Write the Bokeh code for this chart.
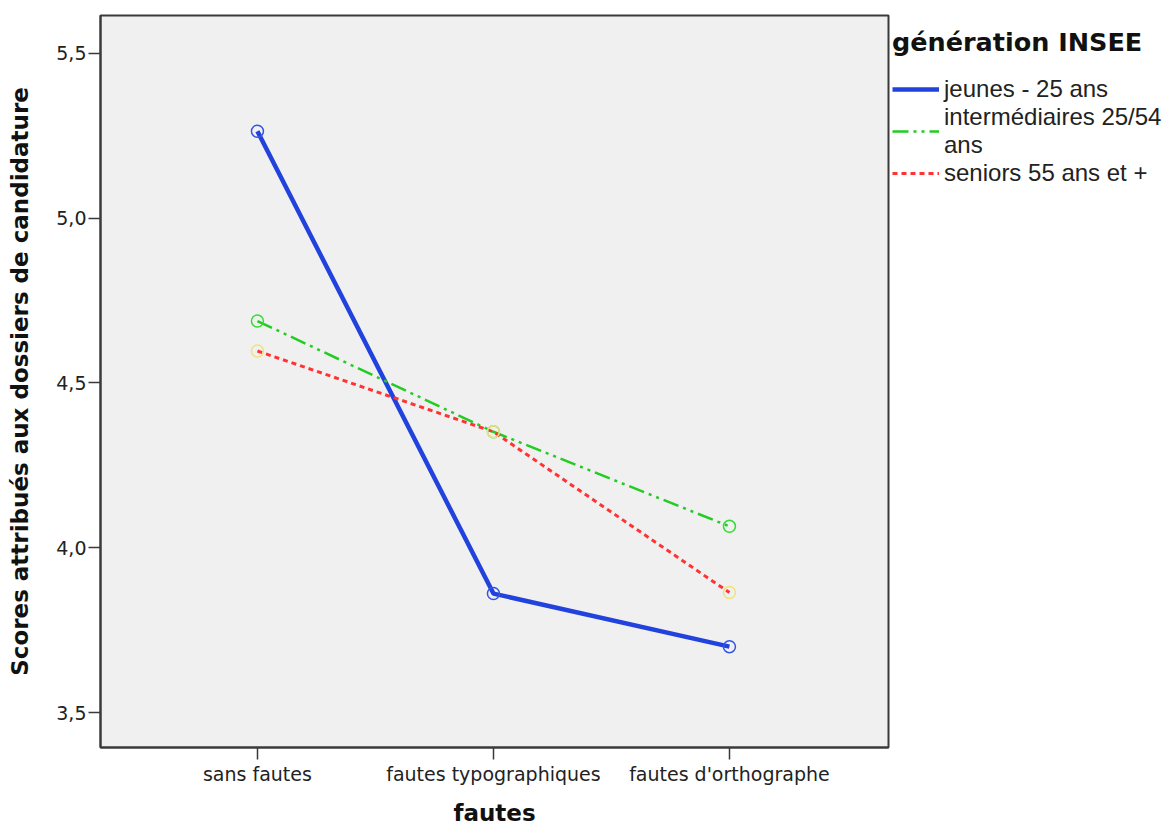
from bokeh.plotting import figure
from bokeh.layouts import row
from bokeh.models import Legend, LegendItem, FixedTicker, CustomJSTickFormatter, Range1d
from bokeh.embed import file_html
from bokeh.resources import INLINE

categories = ["sans fautes", "fautes typographiques", "fautes d'orthographe"]
jeunes = [5.264, 3.861, 3.700]
intermediaires = [4.688, 4.352, 4.065]
seniors = [4.597, 4.352, 3.864]
series_names = ["jeunes - 25 ans", "intermédiaires 25/54\nans", "seniors 55 ans et +"]
legend_title = "génération INSEE"
y_ticks = [3.5, 4.0, 4.5, 5.0, 5.5]

xs = list(range(len(categories)))
H = 828
TOP, FRAME_H = 15, 733
FONT = "DejaVu Sans"
AX = "#3a3a3a"

p = figure(width=890, height=H, output_backend="svg", toolbar_location=None,
           x_range=Range1d(-0.665, 2.674), y_range=Range1d(3.394, 5.615),
           min_border_left=100, min_border_right=2,
           min_border_top=TOP, min_border_bottom=H - TOP - FRAME_H)
p.background_fill_color = "#f0f0f0"
p.border_fill_color = "white"
p.outline_line_color = AX
p.outline_line_width = 2
p.xgrid.visible = False
p.ygrid.visible = False

p.xaxis.ticker = FixedTicker(ticks=xs)
p.xaxis.major_label_overrides = {i: c for i, c in enumerate(categories)}
p.yaxis.ticker = FixedTicker(ticks=y_ticks)
p.yaxis.formatter = CustomJSTickFormatter(code="return tick.toFixed(1).replace('.', ',');")
for ax in (p.xaxis[0], p.yaxis[0]):
    ax.axis_line_color = AX
    ax.axis_line_width = 2
    ax.major_tick_line_color = AX
    ax.major_tick_line_width = 1.5
    ax.major_tick_out = 12
    ax.major_tick_in = 0
    ax.minor_tick_line_color = None
    ax.major_label_text_font = FONT
    ax.major_label_text_font_size = "19px"
    ax.major_label_text_color = "#222222"
    ax.axis_label_text_font = FONT
    ax.axis_label_text_font_style = "bold"
    ax.axis_label_text_font_size = "23px"
    ax.axis_label_text_color = "#111111"
p.xaxis.axis_label = "fautes"
p.yaxis.axis_label = "Scores attribués aux dossiers de candidature"
p.xaxis.major_label_standoff = 3
p.xaxis.axis_label_standoff = 12
p.yaxis.major_label_standoff = 2
p.yaxis.axis_label_standoff = 20

BLUE, GREEN, RED = "#2142dd", "#22cc22", "#ff3333"
styles = [dict(line_color=BLUE, line_width=4.5),
          dict(line_color=GREEN, line_width=2.5, line_dash="16 5 3 5 3 5"),
          dict(line_color=RED, line_width=3, line_dash="5 4")]
series = [jeunes, intermediaires, seniors]
for ys, s in zip(series, styles):
    p.line(xs, ys, **s)
p.scatter(xs, jeunes, marker="circle", size=12, fill_color=None, line_color="#3355e6", line_width=1.5)
p.scatter(xs, intermediaires, marker="circle", size=12, fill_color=None, line_color="#33dd33", line_width=1.5)
p.scatter(xs, seniors, marker="circle", size=12, fill_color=None, line_color="#f0e27a", line_width=1.5)

# legend panel (a frame-only figure next to the chart)
q = figure(width=280, height=H, output_backend="svg", toolbar_location=None,
           x_range=Range1d(10, 11), y_range=Range1d(10, 11),
           min_border_left=0, min_border_right=0,
           min_border_top=TOP, min_border_bottom=H - TOP - FRAME_H)
q.axis.visible = False
q.grid.visible = False
q.outline_line_color = None
q.background_fill_color = "white"
q.border_fill_color = "white"
# one-point lines (draw nothing) used only as legend swatches
swatches = [q.line(xs[:1], ys[:1], **s) for ys, s in zip(series, styles)]

legend = Legend(items=[LegendItem(label=n, renderers=[r]) for n, r in zip(series_names, swatches)],
                location=(2, 560), title=legend_title)
legend.title_text_font = FONT
legend.title_text_font_style = "bold"
legend.title_text_font_size = "25.5px"
legend.title_text_color = "#111111"
legend.title_standoff = 18
legend.label_text_font = "Liberation Sans"
legend.label_text_font_size = "24px"
legend.label_text_color = "#222222"
legend.label_text_line_height = 0.85
legend.label_standoff = 5
legend.glyph_width = 47
legend.glyph_height = 20
legend.spacing = 0
legend.padding = 0
legend.margin = 0
legend.background_fill_alpha = 0
legend.border_line_color = None
q.add_layout(legend, "center")

layout = row(p, q)
open("out.html", "w").write(file_html(layout, INLINE))
